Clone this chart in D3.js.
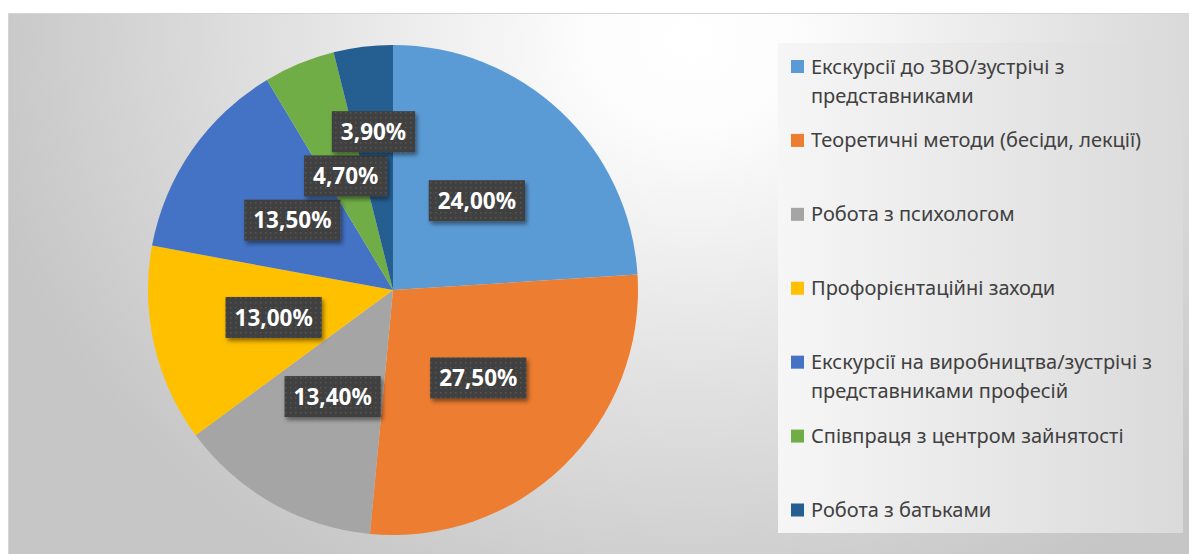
<!DOCTYPE html>
<meta charset="utf-8">
<script src="https://d3js.org/d3.v7.min.js"></script>
<style>
  body { margin: 0; background: #fff; }
  svg { display: block; }
</style>
<div id="chart"></div>
<script>

// data
var categories = [
  "Екскурсії до ЗВО/зустрічі з представниками",
  "Теоретичні методи (бесіди, лекції)",
  "Робота з психологом",
  "Профорієнтаційні заходи",
  "Екскурсії на виробництва/зустрічі з представниками професій",
  "Співпраця з центром зайнятості",
  "Робота з батьками"
];
var values = [24.0, 27.5, 13.4, 13.0, 13.5, 4.7, 3.9];
var colors = ["#5B9BD5", "#ED7D31", "#A5A5A5", "#FFC000", "#4472C4", "#70AD47", "#255E91"];

var W = 1189, H = 554;
var cx = 393, cy = 290, R = 245;

var svg = d3.select("#chart").append("svg")
  .attr("width", W).attr("height", H);

var defs = svg.append("defs");

// chart area background
var bg = defs.append("radialGradient").attr("id", "bgGrad")
  .attr("gradientUnits", "userSpaceOnUse")
  .attr("cx", 690).attr("cy", 40).attr("r", 720)
  .attr("gradientTransform", "translate(690,40) scale(1,0.85) translate(-690,-40)");
bg.append("stop").attr("offset", "0").attr("stop-color", "#ffffff");
bg.append("stop").attr("offset", "0.15").attr("stop-color", "#fcfcfc");
bg.append("stop").attr("offset", "0.55").attr("stop-color", "#e2e2e2");
bg.append("stop").attr("offset", "1").attr("stop-color", "#c6c6c6");

var lg = defs.append("linearGradient").attr("id", "legGrad")
  .attr("x1", "0").attr("x2", "1").attr("y1", "0").attr("y2", "0");
lg.append("stop").attr("offset", "0").attr("stop-color", "#f6f6f6");
lg.append("stop").attr("offset", "1").attr("stop-color", "#dadada");

// dotted label fill
var pat = defs.append("pattern").attr("id", "dots")
  .attr("patternUnits", "userSpaceOnUse")
  .attr("width", 5).attr("height", 5);
pat.append("rect").attr("width", 5).attr("height", 5).attr("fill", "#3f3f3f");
pat.append("rect").attr("x", 2).attr("y", 2).attr("width", 1.5).attr("height", 1.5).attr("fill", "#565656");

var sh = defs.append("filter").attr("id", "shadow")
  .attr("x", "-20%").attr("y", "-20%").attr("width", "150%").attr("height", "160%");
sh.append("feDropShadow").attr("dx", 2).attr("dy", 3).attr("stdDeviation", 2)
  .attr("flood-color", "#000").attr("flood-opacity", 0.45);

svg.append("rect")
  .attr("x", 8.5).attr("y", 13.5).attr("width", W).attr("height", H)
  .attr("fill", "url(#bgGrad)")
  .attr("stroke", "#d4d4d4");

// pie
var pie = d3.pie().sort(null).value(function(d) { return d; });
var arcs = pie(values);
var arc = d3.arc().innerRadius(0).outerRadius(R);

var g = svg.append("g").attr("transform", "translate(" + cx + "," + cy + ")");

g.selectAll("path.slice")
  .data(arcs)
  .enter().append("path")
  .attr("class", "slice")
  .attr("d", arc)
  .attr("fill", function(d, i) { return colors[i]; });

// data labels
var fmt = function(v) { return d3.format(".2f")(v).replace(".", ",") + "%"; };
var boxH = 41, padX = 9;
var placed = [];

arcs.forEach(function(d, i) {
  var lab = g.append("g").attr("class", "label");
  var rect = lab.append("rect")
    .attr("fill", "url(#dots)")
    .attr("filter", "url(#shadow)");
  var txt = lab.append("text")
    .attr("text-anchor", "middle")
    .attr("dy", "0.36em")
    .attr("fill", "#ffffff")
    .style("font-family", "'Noto Sans', 'Open Sans', sans-serif")
    .style("font-weight", "bold")
    .style("font-size", "22.5px")
    .text(fmt(values[i]));
  var bw = txt.node().getComputedTextLength() + 2 * padX;
  var mid = (d.startAngle + d.endAngle) / 2;
  var r = R * 0.5, x, y;
  function overlaps() {
    return placed.some(function(p) {
      return Math.abs(p.x - x) < (p.w + bw) / 2 && Math.abs(p.y - y) < boxH + 3;
    });
  }
  do {
    x = Math.sin(mid) * r;
    y = -Math.cos(mid) * r;
    r += 1;
  } while (overlaps() && r < R);
  placed.push({ x: x, y: y, w: bw });
  rect.attr("x", x - bw / 2).attr("y", y - boxH / 2)
    .attr("width", bw).attr("height", boxH);
  txt.attr("x", x).attr("y", y);
});

// legend
var legX = 778, legY = 43, legW = 405, legH = 490;
svg.append("rect")
  .attr("x", legX).attr("y", legY).attr("width", legW).attr("height", legH)
  .attr("fill", "url(#legGrad)");

var yLeg = d3.scalePoint().domain(categories).range([66.5, 510]);
var legFont = 20, lineH = 29, maxW = 372;

var items = svg.append("g").selectAll("g")
  .data(categories)
  .enter().append("g")
  .attr("transform", function(d) { return "translate(791," + yLeg(d) + ")"; });

items.append("rect")
  .attr("x", 0).attr("y", -6.5).attr("width", 13).attr("height", 13)
  .attr("fill", function(d, i) { return colors[i]; });

items.each(function(d) {
  var t = d3.select(this).append("text")
    .attr("x", 20)
    .attr("fill", "#404040")
    .style("font-family", "'Noto Sans', 'Open Sans', sans-serif")
    .style("font-size", legFont + "px");
  var words = d.split(" "), line = [], lineNo = 0;
  var ts = t.append("tspan").attr("x", 20).attr("y", 0).attr("dy", "0.35em");
  words.forEach(function(w) {
    line.push(w);
    ts.text(line.join(" "));
    if (ts.node().getComputedTextLength() > maxW && line.length > 1) {
      line.pop();
      ts.text(line.join(" "));
      line = [w];
      lineNo++;
      ts = t.append("tspan").attr("x", 20).attr("y", lineNo * lineH).attr("dy", "0.35em").text(w);
    }
  });
});

</script>
